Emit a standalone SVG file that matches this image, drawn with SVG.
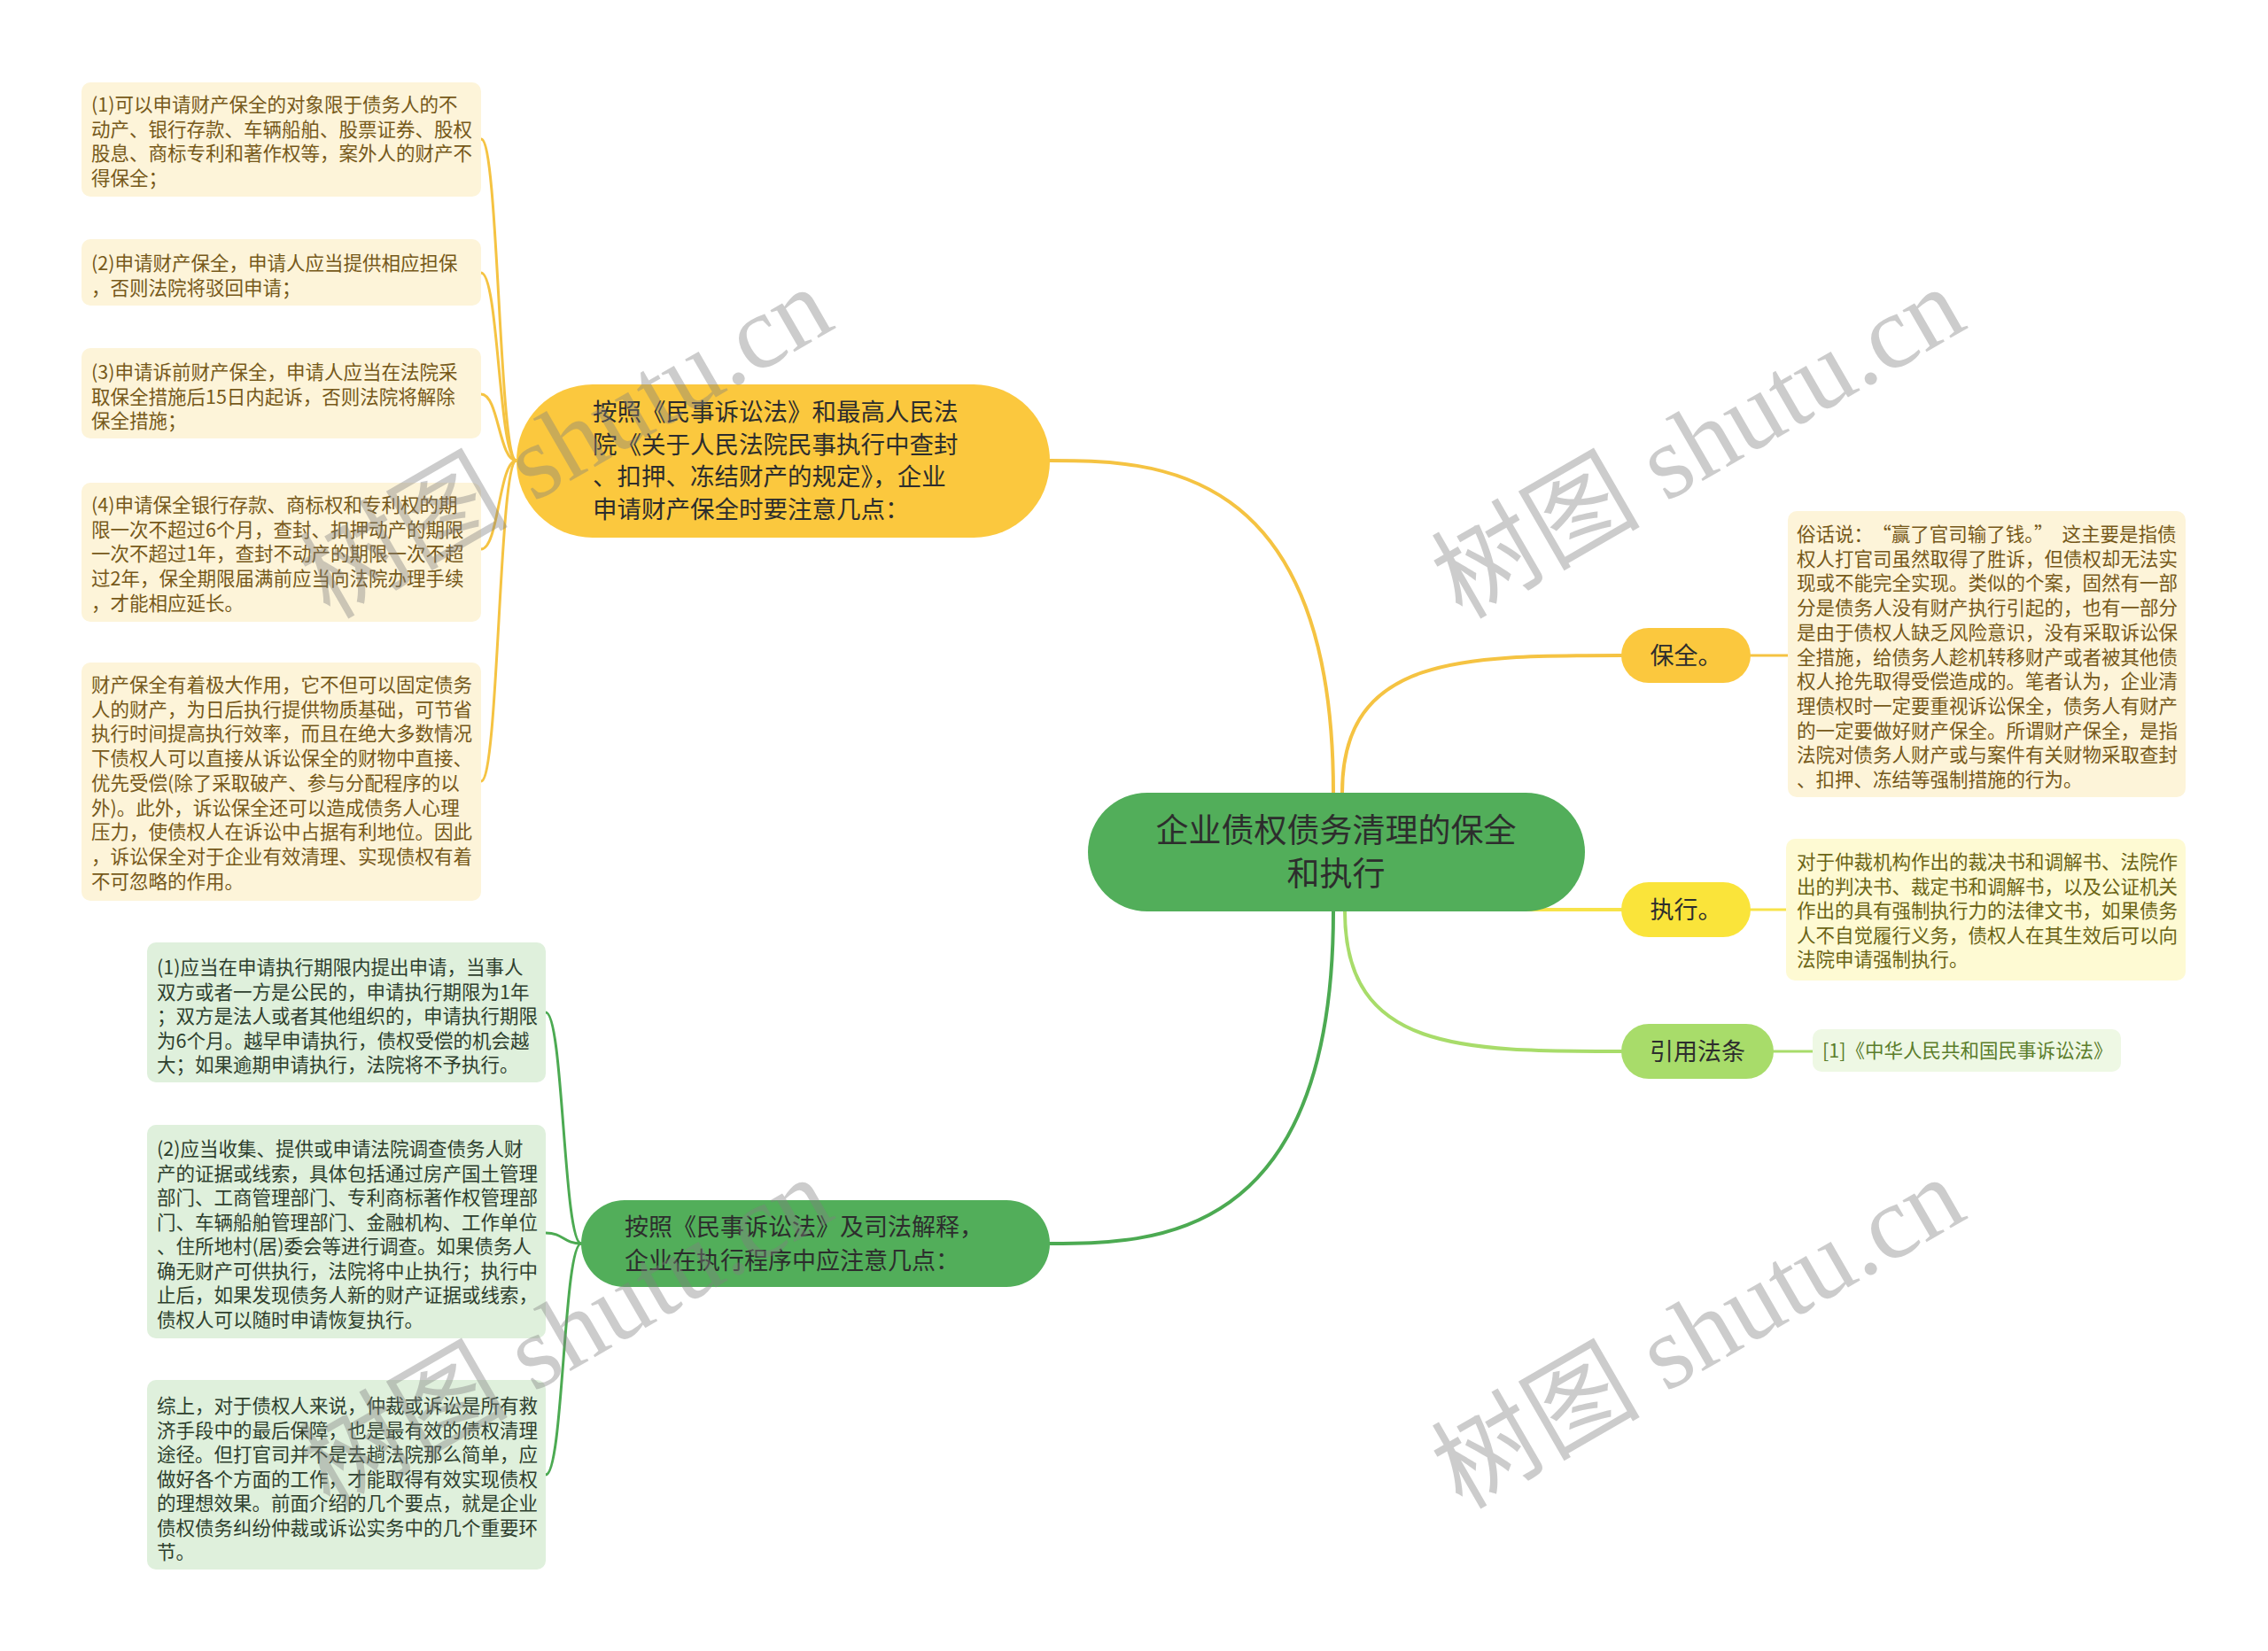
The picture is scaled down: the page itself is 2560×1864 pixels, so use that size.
<svg xmlns="http://www.w3.org/2000/svg" width="2560" height="1864" viewBox="0 0 2560 1864">
<style>
text{font-family:"Noto Sans CJK SC","Noto Sans",sans-serif}
.conn{fill:none;stroke-linecap:round}
.gold{stroke:#f5c342}
.grn{stroke:#4caa52}
.ylw{stroke:#f7e34a}
.lgr{stroke:#a8dc6a}
.w4{stroke-width:4}
.w3{stroke-width:3}
.cream{fill:#fdf4d9}
.ctext{fill:#76591a;font-size:21.5px}
.ybox{fill:#fefad3}
.ytext{fill:#6b6416;font-size:21.5px}
.gbox{fill:#dff0dc}
.gtext{fill:#2e3f2e;font-size:21.5px}
.lbox{fill:#eef8e4}
.ltext{fill:#5b7d2b;font-size:21.5px}
.ntext{fill:#2d2d2d}
.wm{font-family:"Liberation Serif","Noto Sans CJK SC",serif;font-size:118px;fill:#808080;fill-opacity:0.4}
</style>
<rect width="2560" height="1864" fill="#ffffff"/>
<g id="connectors">
<path class="conn gold w4" d="M1505 895 C1505 520 1300 520 1185 520"/>
<path class="conn gold w4" d="M1515 895 C1515 740 1650 740 1830 740"/>
<path class="conn ylw w4" d="M1520 1027 L1830 1027"/>
<path class="conn lgr w4" d="M1518 1029 C1518 1187 1650 1187 1830 1187"/>
<path class="conn grn w4" d="M1505 1029 C1505 1404 1300 1404 1185 1404"/>
<path class="conn gold w3" d="M583 520 C563 520 563 157 543 157"/>
<path class="conn gold w3" d="M583 520 C563 520 563 308 543 308"/>
<path class="conn gold w3" d="M583 520 C563 520 563 445 543 445"/>
<path class="conn gold w3" d="M583 520 C563 520 563 620 543 620"/>
<path class="conn gold w3" d="M583 520 C563 520 563 882 543 882"/>
<path class="conn grn w3" d="M656 1404 C636 1404 636 1143 616 1143"/>
<path class="conn grn w3" d="M656 1404 C636 1404 636 1392 616 1392"/>
<path class="conn grn w3" d="M656 1404 C636 1404 636 1665 616 1665"/>
<path class="conn gold w3" d="M1976 740 L2018 740"/>
<path class="conn ylw w3" d="M1976 1027 L2016 1027"/>
<path class="conn lgr w3" d="M2002 1187 L2046 1187"/>
</g>
<g id="root">
<rect x="1228" y="895" width="561" height="134" rx="67" fill="#52ae5a"/>
<text class="ntext" font-size="37" text-anchor="middle"><tspan x="1508" y="951">企业债权债务清理的保全</tspan><tspan x="1508" y="1000">和执行</tspan></text>
</g>
<g id="node-baoquan-law">
<rect x="583" y="434" width="602" height="173" rx="86" fill="#fbc83e"/>
<text class="ntext" font-size="27.5"><tspan x="669" y="475">按照《民事诉讼法》和最高人民法</tspan><tspan x="669" y="511.7">院《关于人民法院民事执行中查封</tspan><tspan x="669" y="548.4">、扣押、冻结财产的规定》，企业</tspan><tspan x="669" y="585">申请财产保全时要注意几点：</tspan></text>
</g>
<g id="node-zhixing-law">
<rect x="656" y="1355" width="529" height="98" rx="49" fill="#52ae5a"/>
<text class="ntext" font-size="27"><tspan x="705" y="1395">按照《民事诉讼法》及司法解释，</tspan><tspan x="705" y="1433">企业在执行程序中应注意几点：</tspan></text>
</g>
<g id="node-baoquan">
<rect x="1830" y="709" width="146" height="62" rx="31" fill="#fbc83e"/>
<text class="ntext" font-size="27" text-anchor="middle" x="1903" y="750">保全。</text>
</g>
<g id="node-zhixing">
<rect x="1830" y="996" width="146" height="62" rx="31" fill="#fae43a"/>
<text class="ntext" font-size="27" text-anchor="middle" x="1903" y="1037">执行。</text>
</g>
<g id="node-yinyong">
<rect x="1830" y="1156" width="172" height="62" rx="31" fill="#a8dc6a"/>
<text class="ntext" font-size="27" text-anchor="middle" x="1916" y="1197">引用法条</text>
</g>
<g id="leaf-l1">
<rect class="cream" x="92" y="93" width="451" height="129" rx="10"/>
<text class="ctext"><tspan x="103" y="126">(1)可以申请财产保全的对象限于债务人的不</tspan><tspan x="103" y="153.7">动产、银行存款、车辆船舶、股票证券、股权</tspan><tspan x="103" y="181.4">股息、商标专利和著作权等，案外人的财产不</tspan><tspan x="103" y="209.1">得保全；</tspan></text>
</g>
<g id="leaf-l2">
<rect class="cream" x="92" y="270" width="451" height="75" rx="10"/>
<text class="ctext"><tspan x="103" y="305">(2)申请财产保全，申请人应当提供相应担保</tspan><tspan x="103" y="332.7">，否则法院将驳回申请；</tspan></text>
</g>
<g id="leaf-l3">
<rect class="cream" x="92" y="393" width="451" height="102" rx="10"/>
<text class="ctext"><tspan x="103" y="428">(3)申请诉前财产保全，申请人应当在法院采</tspan><tspan x="103" y="455.7">取保全措施后15日内起诉，否则法院将解除</tspan><tspan x="103" y="483.4">保全措施；</tspan></text>
</g>
<g id="leaf-l4">
<rect class="cream" x="92" y="545" width="451" height="157" rx="10"/>
<text class="ctext"><tspan x="103" y="578">(4)申请保全银行存款、商标权和专利权的期</tspan><tspan x="103" y="605.7">限一次不超过6个月，查封、扣押动产的期限</tspan><tspan x="103" y="633.4">一次不超过1年，查封不动产的期限一次不超</tspan><tspan x="103" y="661.1">过2年，保全期限届满前应当向法院办理手续</tspan><tspan x="103" y="688.8">，才能相应延长。</tspan></text>
</g>
<g id="leaf-l5">
<rect class="cream" x="92" y="748" width="451" height="269" rx="10"/>
<text class="ctext"><tspan x="103" y="781">财产保全有着极大作用，它不但可以固定债务</tspan><tspan x="103" y="808.7">人的财产，为日后执行提供物质基础，可节省</tspan><tspan x="103" y="836.4">执行时间提高执行效率，而且在绝大多数情况</tspan><tspan x="103" y="864.1">下债权人可以直接从诉讼保全的财物中直接、</tspan><tspan x="103" y="891.8">优先受偿(除了采取破产、参与分配程序的以</tspan><tspan x="103" y="919.5">外)。此外，诉讼保全还可以造成债务人心理</tspan><tspan x="103" y="947.2">压力，使债权人在诉讼中占据有利地位。因此</tspan><tspan x="103" y="974.9">，诉讼保全对于企业有效清理、实现债权有着</tspan><tspan x="103" y="1002.6">不可忽略的作用。</tspan></text>
</g>
<g id="leaf-r1">
<rect class="cream" x="2018" y="577" width="449" height="323" rx="10"/>
<text class="ctext"><tspan x="2028" y="611">俗话说：</tspan><tspan dx="10">“赢了官司输了钱。”</tspan><tspan dx="10">这主要是指债</tspan><tspan x="2028" y="638.7">权人打官司虽然取得了胜诉，但债权却无法实</tspan><tspan x="2028" y="666.4">现或不能完全实现。类似的个案，固然有一部</tspan><tspan x="2028" y="694.1">分是债务人没有财产执行引起的，也有一部分</tspan><tspan x="2028" y="721.8">是由于债权人缺乏风险意识，没有采取诉讼保</tspan><tspan x="2028" y="749.5">全措施，给债务人趁机转移财产或者被其他债</tspan><tspan x="2028" y="777.2">权人抢先取得受偿造成的。笔者认为，企业清</tspan><tspan x="2028" y="804.9">理债权时一定要重视诉讼保全，债务人有财产</tspan><tspan x="2028" y="832.6">的一定要做好财产保全。所谓财产保全，是指</tspan><tspan x="2028" y="860.3">法院对债务人财产或与案件有关财物采取查封</tspan><tspan x="2028" y="888">、扣押、冻结等强制措施的行为。</tspan></text>
</g>
<g id="leaf-r2">
<rect class="ybox" x="2016" y="947" width="451" height="160" rx="10"/>
<text class="ytext"><tspan x="2028" y="981">对于仲裁机构作出的裁决书和调解书、法院作</tspan><tspan x="2028" y="1008.5">出的判决书、裁定书和调解书，以及公证机关</tspan><tspan x="2028" y="1036">作出的具有强制执行力的法律文书，如果债务</tspan><tspan x="2028" y="1063.5">人不自觉履行义务，债权人在其生效后可以向</tspan><tspan x="2028" y="1091">法院申请强制执行。</tspan></text>
</g>
<g id="leaf-r3">
<rect class="lbox" x="2046" y="1162" width="348" height="48" rx="10"/>
<text class="ltext" x="2057" y="1194">[1]《中华人民共和国民事诉讼法》</text>
</g>
<g id="leaf-b1">
<rect class="gbox" x="166" y="1064" width="450" height="158" rx="10"/>
<text class="gtext"><tspan x="177" y="1100">(1)应当在申请执行期限内提出申请，当事人</tspan><tspan x="177" y="1127.5">双方或者一方是公民的，申请执行期限为1年</tspan><tspan x="177" y="1155">；双方是法人或者其他组织的，申请执行期限</tspan><tspan x="177" y="1182.5">为6个月。越早申请执行，债权受偿的机会越</tspan><tspan x="177" y="1210">大；如果逾期申请执行，法院将不予执行。</tspan></text>
</g>
<g id="leaf-b2">
<rect class="gbox" x="166" y="1270" width="450" height="241" rx="10"/>
<text class="gtext"><tspan x="177" y="1305">(2)应当收集、提供或申请法院调查债务人财</tspan><tspan x="177" y="1332.5">产的证据或线索，具体包括通过房产国土管理</tspan><tspan x="177" y="1360">部门、工商管理部门、专利商标著作权管理部</tspan><tspan x="177" y="1387.5">门、车辆船舶管理部门、金融机构、工作单位</tspan><tspan x="177" y="1415">、住所地村(居)委会等进行调查。如果债务人</tspan><tspan x="177" y="1442.5">确无财产可供执行，法院将中止执行；执行中</tspan><tspan x="177" y="1470">止后，如果发现债务人新的财产证据或线索，</tspan><tspan x="177" y="1497.5">债权人可以随时申请恢复执行。</tspan></text>
</g>
<g id="leaf-b3">
<rect class="gbox" x="166" y="1558" width="450" height="214" rx="10"/>
<text class="gtext"><tspan x="177" y="1595">综上，对于债权人来说，仲裁或诉讼是所有救</tspan><tspan x="177" y="1622.5">济手段中的最后保障，也是最有效的债权清理</tspan><tspan x="177" y="1650">途径。但打官司并不是去趟法院那么简单，应</tspan><tspan x="177" y="1677.5">做好各个方面的工作，才能取得有效实现债权</tspan><tspan x="177" y="1705">的理想效果。前面介绍的几个要点，就是企业</tspan><tspan x="177" y="1732.5">债权债务纠纷仲裁或诉讼实务中的几个重要环</tspan><tspan x="177" y="1760">节。</tspan></text>
</g>
<g id="watermarks">
<text class="wm" transform="translate(372 700) rotate(-30)">树图 shutu.cn</text>
<text class="wm" transform="translate(1650 700) rotate(-30)">树图 shutu.cn</text>
<text class="wm" transform="translate(372 1705) rotate(-30)">树图 shutu.cn</text>
<text class="wm" transform="translate(1650 1705) rotate(-30)">树图 shutu.cn</text>
</g>
</svg>
